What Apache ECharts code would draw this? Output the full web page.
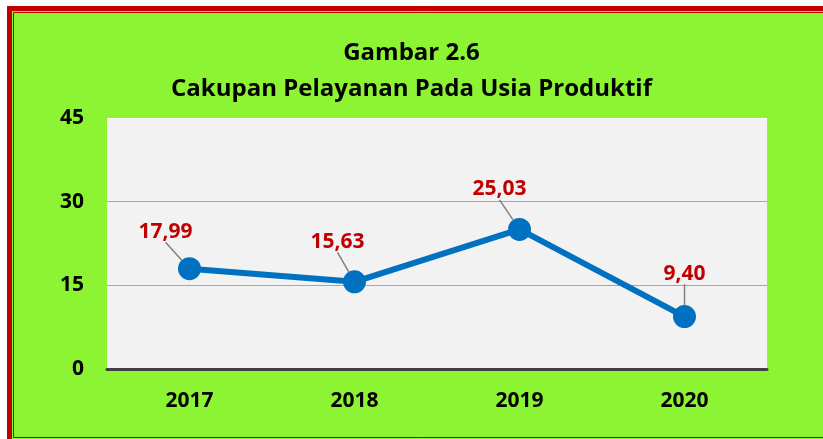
<!DOCTYPE html>
<html>
<head>
<meta charset="utf-8">
<script src="https://cdn.jsdelivr.net/npm/echarts@6/dist/echarts.min.js"></script>
<style>
  html, body { margin: 0; padding: 0; background: #fff; overflow: hidden; }
  #chart { width: 823px; height: 439px; }
</style>
</head>
<body>
<div id="chart"></div>
<script>
var years = ["2017", "2018", "2019", "2020"];
var coverage = [17.99, 15.63, 25.03, 9.40];
var yTicks = [0, 15, 30, 45];

// label shifts (dx, dy) from the default "top" spot
var labelShift = [[-24, -10], [-17, -13], [-20, -13], [0, -16]];

var font = "'Open Sans', sans-serif";
var myChart = echarts.init(document.getElementById("chart"));

myChart.setOption({
  backgroundColor: "#FFFFFF",
  textStyle: { fontFamily: font },
  // green panel with the double red frame (runs off the right edge)
  graphic: [
    {
      type: "rect", z: -10, silent: true,
      shape: { x: 9.5, y: 8.5, width: 1000, height: 433 },
      style: { fill: "#8DF433", stroke: "#C00000", lineWidth: 5 }
    },
    {
      type: "rect", z: -9, silent: true,
      shape: { x: 13.5, y: 12.5, width: 1000, height: 425 },
      style: { fill: null, stroke: "#C00000", lineWidth: 1 }
    }
  ],
  title: {
    text: "Gambar 2.6\nCakupan Pelayanan Pada Usia Produktif",
    left: "center",
    top: 30,
    textStyle: {
      fontFamily: font, fontSize: 24, fontWeight: "bold",
      color: "#000", lineHeight: 36
    }
  },
  grid: {
    left: 107, right: 56, top: 118, bottom: 70,
    show: true, backgroundColor: "#F2F2F2", borderWidth: 0
  },
  xAxis: {
    type: "category",
    data: years,
    axisTick: { show: false },
    axisLine: { lineStyle: { color: "#404040", width: 3 } },
    axisLabel: {
      margin: 22, color: "#000", fontSize: 21, fontWeight: "bold", fontFamily: font
    }
  },
  yAxis: {
    type: "value",
    min: yTicks[0],
    max: yTicks[yTicks.length - 1],
    interval: 15,
    axisLine: { show: false },
    axisTick: { show: false },
    axisLabel: {
      margin: 23, color: "#000", fontSize: 21, fontWeight: "bold", fontFamily: font
    },
    splitLine: {
      lineStyle: { color: ["#A6A6A6", "#A6A6A6", "#A6A6A6", "#FFFFFF"], width: 1 }
    }
  },
  series: [
    {
      type: "line",
      data: coverage,
      symbol: "circle",
      symbolSize: 23,
      lineStyle: { color: "#0070C0", width: 6 },
      itemStyle: { color: "#0070C0" },
      label: {
        show: true,
        position: "top",
        distance: 5,
        color: "#C00000",
        fontSize: 21,
        fontWeight: "bold",
        fontFamily: font,
        formatter: function (p) {
          return p.value.toFixed(2).replace(".", ",");
        }
      },
      labelLine: {
        show: true,
        lineStyle: { color: "#808080", width: 1.5 }
      },
      labelLayout: function (p) {
        var s = labelShift[p.dataIndex];
        return { dx: s[0], dy: s[1] };
      },
      emphasis: { disabled: true },
      animation: false
    }
  ]
});
</script>
</body>
</html>
